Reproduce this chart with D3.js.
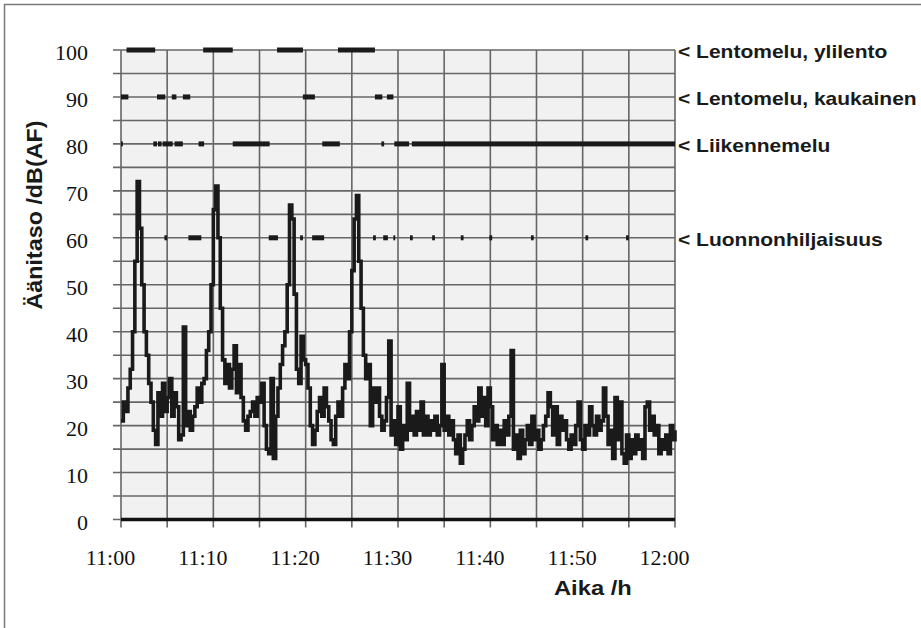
<!DOCTYPE html>
<html>
<head>
<meta charset="utf-8">
<script src="https://cdn.jsdelivr.net/npm/d3@7/dist/d3.min.js"></script>
<style>
body { margin: 0; background: #fff; }
</style>
</head>
<body>
<div id="chart-area"></div>
<script>
// sound level, dB(AF), four readings per minute starting 11:00
var levels = [
	21, 25, 23, 28,  32, 40, 55, 72,  62, 50, 40, 35,  29, 25, 19, 16,  27, 22, 29, 23,
	26, 30, 22, 27,  24, 17, 18, 41,  20, 23, 19, 22,  24, 28, 25, 29,  30, 36, 40, 50,
	66, 71, 60, 45,  34, 29, 33, 28,  32, 37, 27, 33,  26, 21, 19, 22,  23, 25, 22, 26,
	25, 29, 20, 15,  14, 30, 13, 22,  28, 33, 37, 40,  50, 67, 64, 48,  32, 29, 39, 34,
	33, 28, 20, 16,  19, 23, 26, 22,  28, 24, 21, 17,  16, 22, 25, 22,  28, 33, 30, 40,
	53, 64, 69, 55,  45, 35, 30, 33,  20, 28, 25, 28,  22, 19, 21, 26,  38, 18, 21, 16,
	24, 15, 20, 17,  29, 19, 22, 18,  23, 19, 25, 18,  22, 18, 21, 19,  22, 18, 20, 33,
	19, 22, 18, 21,  17, 14, 18, 12,  15, 18, 21, 17,  20, 24, 21, 28,  22, 26, 20, 28,
	24, 17, 20, 16,  19, 16, 21, 18,  22, 36, 15, 18,  13, 19, 14, 17,  20, 16, 22, 17,
	19, 15, 17, 20,  22, 27, 24, 18,  24, 16, 22, 19,  21, 17, 15, 18,  16, 20, 25, 17,
	15, 20, 18, 24,  20, 18, 22, 19,  21, 28, 22, 16,  19, 13, 26, 17,  25, 14, 12, 18,
	13, 17, 14, 18,  15, 17, 13, 24,  25, 19, 22, 18,  20, 14, 17, 15,  18, 14, 20, 17,
	19
];

// classified periods, [start, end] in minutes after 11:00
var ylilento = [[0.6, 3.7], [8.9, 12.1], [16.9, 19.7], [23.5, 27.5]];
var kaukainen = [[0, 0.8], [3.9, 4.8], [5.5, 6.0], [6.7, 7.5], [19.7, 21.0], [27.5, 28.3], [28.8, 29.5]];
var liikenne = [[0, 0.2], [3.5, 3.9], [4.0, 4.4], [4.5, 5.6], [5.8, 6.7], [8.4, 9.0], [12.1, 16.1],
	[21.8, 23.7], [28.2, 28.5], [29.6, 31.2], [31.5, 60]];
var luonto = [[4.7, 5.0], [7.3, 8.7], [16.0, 17.0], [19.4, 19.7], [20.7, 22.0], [27.3, 27.6], [28.4, 28.9],
	[29.5, 29.7], [31.3, 31.6], [33.7, 34.0], [36.8, 37.1], [39.9, 40.2], [44.4, 44.7], [50.3, 50.6], [54.7, 55.0]];

var rowLevels = [100, 90, 80, 60];
var rowNames = ["Lentomelu, ylilento", "Lentomelu, kaukainen", "Liikennemelu", "Luonnonhiljaisuus"];
var rowPeriods = [ylilento, kaukainen, liikenne, luonto];

var yTicks = [0, 10, 20, 30, 40, 50, 60, 70, 80, 90, 100];
var xTicks = [0, 10, 20, 30, 40, 50, 60];
var xTickLabels = ["11:00", "11:10", "11:20", "11:30", "11:40", "11:50", "12:00"];

var margin = { left: 121, top: 50 };
var width = 554;
var height = 469.5;

var svg = d3.select("#chart-area")
	.append("svg")
	.attr("width", 921)
	.attr("height", 628);

// outer frame
svg.append("rect")
	.attr("x", 4.5).attr("y", 4.5)
	.attr("width", 1000).attr("height", 1000)
	.attr("fill", "none")
	.attr("stroke", "#7a7a7a")
	.attr("stroke-width", 1.5);

var g = svg.append("g")
	.attr("transform", "translate(" + margin.left + "," + margin.top + ")");

var x = d3.scaleLinear().domain([0, 60]).range([0, width]);
var y = d3.scaleLinear().domain([0, 100]).range([height, 0]);

g.append("rect")
	.attr("width", width)
	.attr("height", height)
	.attr("fill", "#f1f1f1");

// grid every 5 dB and every 5 minutes
g.selectAll(".hgrid")
	.data(d3.range(0, 101, 5))
	.enter().append("line")
	.attr("x1", -8).attr("x2", width)
	.attr("y1", function(d){ return y(d); })
	.attr("y2", function(d){ return y(d); })
	.attr("stroke", "#666")
	.attr("stroke-width", 1.6);

g.selectAll(".vgrid")
	.data(d3.range(0, 61, 5))
	.enter().append("line")
	.attr("x1", function(d){ return x(d); })
	.attr("x2", function(d){ return x(d); })
	.attr("y1", 0).attr("y2", height + 8)
	.attr("stroke", "#666")
	.attr("stroke-width", 1.6);

// axis labels
var yAxisCall = d3.axisLeft(y).tickValues(yTicks).tickSize(0).tickPadding(33);
var yAxisGroup = g.append("g").call(yAxisCall);
yAxisGroup.select(".domain").remove();
yAxisGroup.selectAll("text")
	.attr("font-family", "'Liberation Serif', 'Times New Roman', serif")
	.attr("font-size", 22)
	.attr("fill", "#111")
	.attr("dy", "0.45em");

var xAxisCall = d3.axisBottom(x).tickValues(xTicks).tickSize(0)
	.tickFormat(function(d, i){ return xTickLabels[i]; });
var xAxisGroup = g.append("g")
	.attr("transform", "translate(-11," + height + ")")
	.call(xAxisCall);
xAxisGroup.select(".domain").remove();
xAxisGroup.selectAll("text")
	.attr("font-family", "'Liberation Serif', 'Times New Roman', serif")
	.attr("font-size", 22)
	.attr("fill", "#111")
	.attr("y", 45.5)
	.attr("dy", 0);

// classified periods
rowPeriods.forEach(function(periods, i){
	g.selectAll(".row" + i)
		.data(periods)
		.enter().append("rect")
		.attr("x", function(d){ return x(d[0]); })
		.attr("width", function(d){ return x(d[1]) - x(d[0]); })
		.attr("y", y(rowLevels[i]) - 2.5)
		.attr("height", 5)
		.attr("fill", "#1a1a1a");

	svg.append("text")
		.attr("transform", "translate(678," + (margin.top + y(rowLevels[i]) + 8) + ") scale(1.13,1)")
		.attr("font-family", "'Liberation Sans', Arial, sans-serif")
		.attr("font-weight", "bold")
		.attr("font-size", 18.6)
		.attr("fill", "#1a1a1a")
		.text("< " + rowNames[i]);
});

// baseline at 0 dB
g.append("line")
	.attr("x1", 0).attr("x2", width)
	.attr("y1", y(0)).attr("y2", y(0))
	.attr("stroke", "#111")
	.attr("stroke-width", 3.5);

// sound level trace
var line = d3.line()
	.x(function(d, i){ return x(i * 0.25); })
	.y(function(d){ return y(d); })
	.curve(d3.curveStepAfter);

g.append("path")
	.datum(levels)
	.attr("d", line)
	.attr("fill", "none")
	.attr("stroke", "#1a1a1a")
	.attr("stroke-width", 3.6)
	.attr("stroke-linejoin", "miter");

// titles
svg.append("text")
	.attr("transform", "translate(42,215) rotate(-90) scale(1.06,1)")
	.attr("text-anchor", "middle")
	.attr("font-family", "'Liberation Sans', Arial, sans-serif")
	.attr("font-weight", "bold")
	.attr("font-size", 22)
	.attr("fill", "#1a1a1a")
	.text("Äänitaso /dB(AF)");

svg.append("text")
	.attr("transform", "translate(554,595) scale(1.13,1)")
	.attr("font-family", "'Liberation Sans', Arial, sans-serif")
	.attr("font-weight", "bold")
	.attr("font-size", 21)
	.attr("fill", "#1a1a1a")
	.text("Aika /h");
</script>
</body>
</html>
